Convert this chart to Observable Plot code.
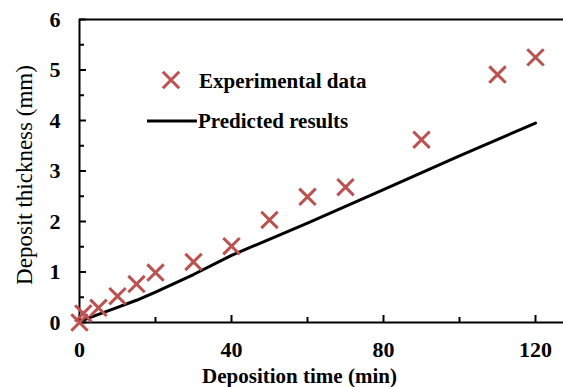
<!DOCTYPE html>
<html><head><meta charset="utf-8">
<script src="https://cdn.jsdelivr.net/npm/d3@7"></script>
<script src="https://cdn.jsdelivr.net/npm/@observablehq/plot@0.6"></script>
<style>
html,body{margin:0;padding:0;background:#fff;}
#wrap{position:relative;width:563px;height:387px;overflow:hidden;background:#fff;}
#legend{position:absolute;left:0;top:0;}
</style></head><body><div id="wrap"></div>
<script>
// Experimental data (Deposition time in min, deposit thickness in mm)
const expTime = [0, 1, 5, 10, 15, 20, 30, 40, 50, 60, 70, 90, 110, 120];
const expThickness = [0, 0.18, 0.29, 0.52, 0.76, 0.99, 1.2, 1.51, 2.03, 2.49, 2.68, 3.62, 4.91, 5.25];
// Predicted results
const predTime = [0, 5, 10, 15, 20, 30, 40, 60, 80, 100, 120];
const predThickness = [0.02, 0.16, 0.3, 0.44, 0.6, 0.95, 1.33, 1.97, 2.63, 3.3, 3.95];
// Axes
const xMajorTicks = [0, 40, 80, 120];
const xMinorTicks = [20, 60, 100];
const yMajorTicks = [0, 1, 2, 3, 4, 5, 6];
const yMinorTicks = [0.5, 1.5, 2.5, 3.5, 4.5, 5.5];
const xLabel = "Deposition time (min)";
const yLabel = "Deposit thickness (mm)";
const legendLabels = ["Experimental data", "Predicted results"];

const expData = expTime.map((t, i) => ({t, v: expThickness[i]}));
const predData = predTime.map((t, i) => ({t, v: predThickness[i]}));

const W = 563, H = 387, mL = 79, mT = 19, mB = 65, mR = 0;
const frameW = W - mL - mR, frameH = H - mT - mB;
const red = "#C0504D";

const chart = Plot.plot({
  width: W, height: H,
  marginLeft: mL, marginTop: mT, marginBottom: mB, marginRight: mR,
  style: {fontFamily: "'Liberation Serif', 'Times New Roman', serif", fontSize: "22px", fontWeight: "bold", background: "#fff", color: "black"},
  x: {domain: [0, 127.37]},
  y: {domain: [0, 6]},
  marks: [
    Plot.axisX({ticks: xMajorTicks, tickFormat: d3.format("d"), tickSize: 0, tickPadding: 19, label: null}),
    Plot.axisY({ticks: yMajorTicks, tickFormat: d3.format("d"), tickSize: 0, tickPadding: 19, label: null}),
    Plot.ruleX(xMajorTicks, {insetTop: frameH - 7, stroke: "black", strokeWidth: 2}),
    Plot.ruleX(xMinorTicks, {insetTop: frameH - 5, stroke: "black", strokeWidth: 2}),
    Plot.ruleY(yMajorTicks, {insetRight: frameW - 7, stroke: "black", strokeWidth: 2}),
    Plot.ruleY(yMinorTicks, {insetRight: frameW - 5, stroke: "black", strokeWidth: 2}),
    Plot.ruleX([0], {stroke: "black", strokeWidth: 2}),
    Plot.ruleY([0, 6], {stroke: "black", strokeWidth: 2}),
    Plot.line(predData, {x: "t", y: "v", stroke: "black", strokeWidth: 3}),
    Plot.dot(expData, {x: "t", y: "v", symbol: "times", r: 7.5, stroke: red, strokeWidth: 3}),
    Plot.text([xLabel], {frameAnchor: "bottom", dx: -22, dy: 54, text: d => d, fontSize: 21, fontWeight: "bold", textAnchor: "middle", lineAnchor: "middle"}),
    Plot.text([yLabel], {frameAnchor: "left", dx: -55, dy: 4, rotate: -90, text: d => d, fontSize: 23, fontWeight: "normal", textAnchor: "middle", lineAnchor: "middle"})
  ]
});

const wrap = document.getElementById("wrap");
wrap.appendChild(chart);

// Legend overlay
const leg = d3.select(wrap).append("svg").attr("id", "legend").attr("width", W).attr("height", H)
  .style("font-family", "'Liberation Serif', 'Times New Roman', serif").style("font-weight", "bold").style("font-size", "21px");
leg.append("path").attr("transform", "translate(171,80)")
  .attr("d", d3.symbol(d3.symbolTimes, Math.PI * 7.5 * 7.5)())
  .attr("fill", "none").attr("stroke", red).attr("stroke-width", 3);
leg.append("text").attr("x", 199).attr("y", 88).text(legendLabels[0]);
leg.append("line").attr("x1", 147).attr("x2", 197).attr("y1", 121).attr("y2", 121).attr("stroke", "black").attr("stroke-width", 3);
leg.append("text").attr("x", 198).attr("y", 128).text(legendLabels[1]);
</script>
</body></html>
